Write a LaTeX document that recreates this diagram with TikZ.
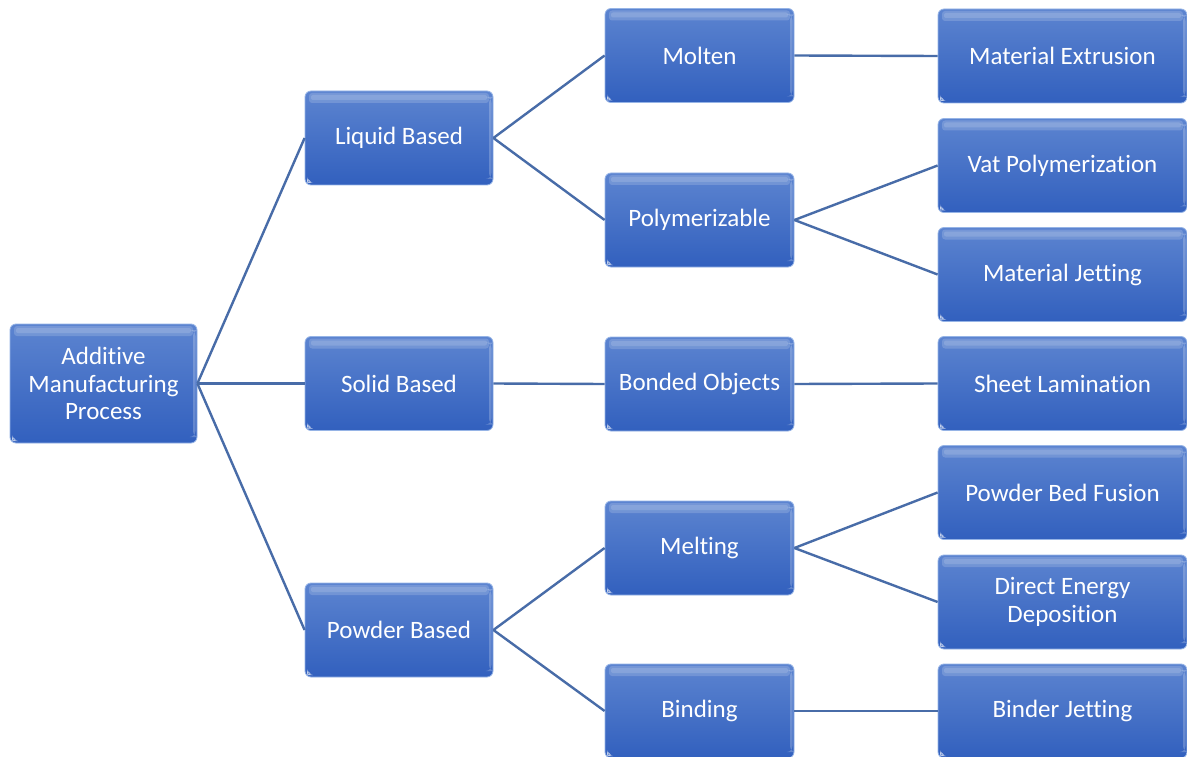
\documentclass[tikz,border=0pt]{standalone}
\usepackage{fontspec}
\setmainfont{Carlito}[Ligatures=NoCommon]
\usetikzlibrary{calc}
\definecolor{boxtop}{RGB}{92,132,208}
\definecolor{boxbot}{RGB}{50,96,190}
\definecolor{boxedge}{RGB}{150,180,230}
\definecolor{linkcol}{RGB}{72,108,168}
\tikzset{
  procbox/.style={
    draw=boxedge, line width=0.8pt, rounded corners=6pt,
    top color=boxtop, bottom color=boxbot,
    text=white, align=center, inner sep=0pt,
    font=\fontsize{25}{27.5}\selectfont,
    path picture={
      % soft glossy highlight along the top edge
      \fill[white,opacity=0.16,rounded corners=3pt]
        ($(path picture bounding box.north west)+(4pt,-2pt)$) rectangle
        ($(path picture bounding box.north east)+(-4pt,-12pt)$);
      \fill[white,opacity=0.14,rounded corners=2pt]
        ($(path picture bounding box.north west)+(6pt,-4pt)$) rectangle
        ($(path picture bounding box.north east)+(-6pt,-9pt)$);
      % thin light strip down the right side
      \fill[white,opacity=0.22]
        ($(path picture bounding box.north east)+(-4pt,-6pt)$) rectangle
        ($(path picture bounding box.south east)+(-1.5pt,6pt)$);
      % small light corner at the bottom left
      \fill[white,opacity=0.7]
        ($(path picture bounding box.south west)+(2pt,2pt)$) --
        ($(path picture bounding box.south west)+(7pt,2pt)$) --
        ($(path picture bounding box.south west)+(2pt,7pt)$) -- cycle;
    }},
  rootbox/.style={procbox, minimum width=187pt, minimum height=119pt},
  lvone/.style={procbox, minimum width=188pt, minimum height=94pt},
  lvtwo/.style={procbox, minimum width=189pt, minimum height=94pt},
  lvthree/.style={procbox, minimum width=249pt, minimum height=94pt},
  link/.style={draw=linkcol, line width=2.4pt}
}
\begin{document}
\begin{tikzpicture}[x=1pt,y=-1pt]
\useasboundingbox (0,0) rectangle (1187,757);
\fill[white] (0,0) rectangle (1187,757);

% root
\node[rootbox] (root) at (103.5,383.5) {Additive\\Manufacturing\\Process};

% first level
\node[lvone] (liq) at (399,138) {Liquid Based};
\node[lvone] (sol) at (399,383.5) {Solid Based};
\node[lvone] (pow) at (399,630) {Powder Based};

% second level
\node[lvtwo] (mol) at (699.5,55.5) {Molten};
\node[lvtwo] (pol) at (699.5,220) {Polymerizable};
\node[lvtwo] (bon) at (699.5,384) {Bonded Objects};
\node[lvtwo] (mel) at (699.5,548) {Melting};
\node[lvtwo] (bin) at (699.5,711) {Binding};

% third level
\node[lvthree] (mex) at (1062.5,56) {Material Extrusion};
\node[lvthree] (vat) at (1062.5,165.5) {Vat Polymerization};
\node[lvthree] (mjt) at (1062.5,274.5) {Material Jetting};
\node[lvthree] (shl) at (1062.5,383.5) {Sheet Lamination};
\node[lvthree] (pbf) at (1062.5,492.5) {Powder Bed Fusion};
\node[lvthree] (ded) at (1062.5,602) {Direct Energy\\Deposition};
\node[lvthree] (bjt) at (1062.5,711) {Binder Jetting};

% connectors, from the right side of each parent to the left side of each child
\draw[link] (root.east) -- (liq.west);
\draw[link] (root.east) -- (sol.west);
\draw[link] (root.east) -- (pow.west);
\draw[link] (liq.east) -- (mol.west);
\draw[link] (liq.east) -- (pol.west);
\draw[link] (sol.east) -- (bon.west);
\draw[link] (pow.east) -- (mel.west);
\draw[link] (pow.east) -- (bin.west);
\draw[link] (mol.east) -- (mex.west);
\draw[link] (pol.east) -- (vat.west);
\draw[link] (pol.east) -- (mjt.west);
\draw[link] (bon.east) -- (shl.west);
\draw[link] (mel.east) -- (pbf.west);
\draw[link] (mel.east) -- (ded.west);
\draw[link] (bin.east) -- (bjt.west);
\end{tikzpicture}
\end{document}
